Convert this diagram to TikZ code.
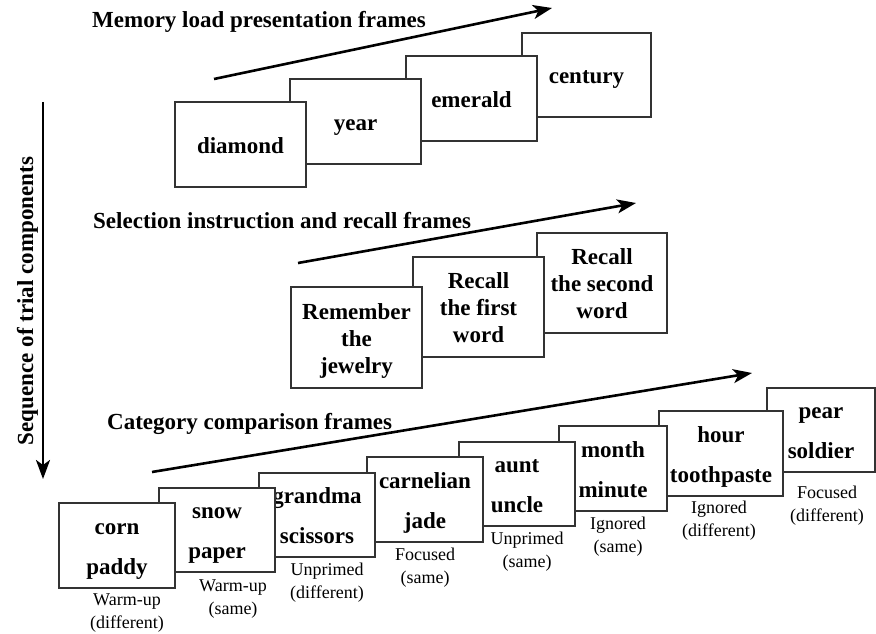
\documentclass[tikz,border=0pt]{standalone}
\usepackage{fontspec}
\setmainfont{Liberation Serif}
\usetikzlibrary{arrows.meta}
\newcommand{\wl}[1]{\rule[-5pt]{0pt}{27pt}#1}
\newcommand{\cl}[1]{\rule[-5pt]{0pt}{21pt}#1}
\tikzset{
  frame/.style={draw=black!80, line width=1.3pt, fill=white, inner sep=0pt, align=center,
    font=\fontsize{23}{27}\selectfont\bfseries},
  pairframe/.style={frame, font=\fontsize{23}{40}\selectfont\bfseries},
  title/.style={anchor=base west, inner sep=0pt, font=\fontsize{23}{27}\selectfont\bfseries},
  cond/.style={inner sep=0pt, align=center, font=\fontsize{18}{23}\selectfont},
  seqarrow/.style={line width=2.6pt, -{Stealth[length=19pt,width=14pt,inset=5pt]}},
}
\begin{document}
\begin{tikzpicture}[x=1pt,y=-1pt]
\useasboundingbox (0,0) rectangle (876,634);
% vertical arrow and label
\coordinate (vs) at (43,102);
\coordinate (ve) at (43,479);
\draw[seqarrow] (vs) -- (ve);
\node[rotate=90, anchor=base, inner sep=0pt, font=\fontsize{23}{27}\selectfont\bfseries] (seq) at (33,301) {Sequence of trial components};

% --- memory load presentation frames
\node[title] (t1) at (92,28) {Memory load presentation frames};
\coordinate (a1s) at (214,79);
\coordinate (a1e) at (552,8);
\draw[seqarrow] (a1s) -- (a1e);
\node[frame, minimum width=129pt, minimum height=84pt] (d4) at (586.5,75) {\wl{century}};
\node[frame, minimum width=131pt, minimum height=85pt] (d3) at (471.5,98.5) {\wl{emerald}};
\node[frame, minimum width=131pt, minimum height=85pt] (d2) at (355.5,121.5) {\wl{year}};
\node[frame, minimum width=131pt, minimum height=85pt] (d1) at (240.5,144.5) {\wl{diamond}};

% --- selection instruction and recall frames
\node[title] (t2) at (93,228) {Selection instruction and recall frames};
\coordinate (a2s) at (298,263);
\coordinate (a2e) at (636,203);
\draw[seqarrow] (a2s) -- (a2e);
\node[frame, minimum width=130pt, minimum height=100pt] (m3) at (602,283) {\wl{Recall}\\\wl{the second}\\\wl{word}};
\node[frame, minimum width=131pt, minimum height=100pt] (m2) at (478.5,307) {\wl{Recall}\\\wl{the first}\\\wl{word}};
\node[frame, minimum width=131pt, minimum height=101pt] (m1) at (356.5,337.5) {\wl{Remember}\\\wl{the}\\\wl{jewelry}};

% --- category comparison frames
\node[title] (t3) at (107,429) {Category comparison frames};
\coordinate (a3s) at (152,472);
\coordinate (a3e) at (752,373);
\draw[seqarrow] (a3s) -- (a3e);
\node[pairframe, minimum width=108pt, minimum height=84pt] (b8) at (821,430) {\wl{pear}\\\wl{soldier}};
\node[pairframe, minimum width=124pt, minimum height=85pt] (b7) at (721,453.5) {\wl{hour}\\\wl{toothpaste}};
\node[pairframe, minimum width=108pt, minimum height=85pt] (b6) at (613,468.5) {\wl{month}\\\wl{minute}};
\node[pairframe, minimum width=116pt, minimum height=84pt] (b5) at (517,484) {\wl{aunt}\\\wl{uncle}};
\node[pairframe, minimum width=116pt, minimum height=85pt] (b4) at (425,499.5) {\wl{carnelian}\\\wl{jade}};
\node[pairframe, minimum width=116pt, minimum height=84pt] (b3) at (317,515) {\wl{grandma}\\\wl{scissors}};
\node[pairframe, minimum width=116pt, minimum height=84pt] (b2) at (217,530) {\wl{snow}\\\wl{paper}};
\node[pairframe, minimum width=116pt, minimum height=85pt] (b1) at (117,545.5) {\wl{corn}\\\wl{paddy}};

% condition labels
\node[cond] (l1) at (127,611) {\cl{Warm-up}\\\cl{(different)}};
\node[cond] (l2) at (233,597.5) {\cl{Warm-up}\\\cl{(same)}};
\node[cond] (l3) at (327,581.5) {\cl{Unprimed}\\\cl{(different)}};
\node[cond] (l4) at (425,566.5) {\cl{Focused}\\\cl{(same)}};
\node[cond] (l5) at (527,550.5) {\cl{Unprimed}\\\cl{(same)}};
\node[cond] (l6) at (618,535.5) {\cl{Ignored}\\\cl{(same)}};
\node[cond] (l7) at (719,519.5) {\cl{Ignored}\\\cl{(different)}};
\node[cond] (l8) at (827,504.5) {\cl{Focused}\\\cl{(different)}};
\end{tikzpicture}
\end{document}
